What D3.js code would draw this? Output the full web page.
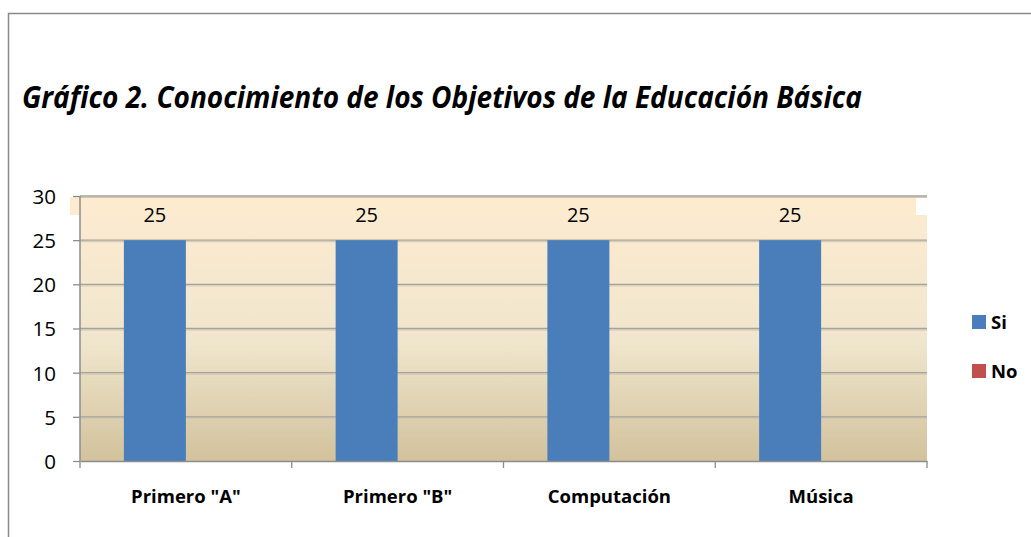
<!DOCTYPE html>
<html>
<head>
<meta charset="utf-8">
<script src="https://d3js.org/d3.v7.min.js"></script>
<style>
  body { margin: 0; background: #fff; }
  text { font-family: "Open Sans", "Noto Sans", sans-serif; }
</style>
</head>
<body>
<svg id="chart" width="1031" height="537"></svg>
<script>
// Data
var categories = ['Primero "A"', 'Primero "B"', 'Computación', 'Música'];
var series = ["Si", "No"];
var siValues = [25, 25, 25, 25];
var noValues = [0, 0, 0, 0];
var yTicks = [0, 5, 10, 15, 20, 25, 30];
var colors = ["#4a7ebb", "#c0504d"];

var svg = d3.select("#chart");
var margin = {top: 196, left: 80, right: 104, bottom: 76};
var plotW = 1031 - margin.left - margin.right,
    plotH = 537 - margin.top - margin.bottom;

// outer frame
svg.append("path")
  .attr("d", "M8.5,537 V13.5 H1031")
  .attr("fill", "none")
  .attr("stroke", "#8a8a8a")
  .attr("stroke-width", 1.5);

// title
svg.append("text")
  .attr("x", 22).attr("y", 108)
  .attr("font-size", 31).attr("font-weight", "bold").attr("font-style", "italic")
  .attr("textLength", 840).attr("lengthAdjust", "spacingAndGlyphs")
  .attr("fill", "#000")
  .text("Gráfico 2. Conocimiento de los Objetivos de la Educación Básica");

// scales
var x = d3.scaleBand().domain(categories).range([0, plotW]).padding(0);
var xs = d3.scaleBand().domain(series).range([0, x.bandwidth()]).paddingInner(0).paddingOuter(0.708);
var y = d3.scaleLinear().domain([0, 30]).range([plotH, 0]);

var defs = svg.append("defs");
var grad = defs.append("linearGradient").attr("id", "bg").attr("x1", 0).attr("y1", 0).attr("x2", 0).attr("y2", 1);
grad.append("stop").attr("offset", "0%").attr("stop-color", "#fdebd0");
grad.append("stop").attr("offset", "55%").attr("stop-color", "#f0e6cd");
grad.append("stop").attr("offset", "100%").attr("stop-color", "#d2c29c");

var g = svg.append("g").attr("transform", "translate(" + margin.left + "," + margin.top + ")");

// plot background
g.append("rect")
  .attr("width", plotW).attr("height", plotH)
  .attr("fill", "url(#bg)");
// label band strip at the top (as in the original)
g.append("rect")
  .attr("x", -10).attr("y", 1)
  .attr("width", plotW - 1).attr("height", 18)
  .attr("fill", "#fdebd0");
g.append("rect")
  .attr("x", plotW - 11).attr("y", 1)
  .attr("width", 11).attr("height", 18)
  .attr("fill", "#fff");

// gridlines
g.selectAll(".grid-shadow")
  .data(yTicks.filter(function(d) { return d > 0; }))
  .enter().append("line")
  .attr("x1", 0).attr("x2", plotW)
  .attr("y1", function(d) { return y(d) + 1.5; }).attr("y2", function(d) { return y(d) + 1.5; })
  .attr("stroke", "#cfc6b4").attr("stroke-width", 1);
g.selectAll(".grid")
  .data(yTicks.filter(function(d) { return d > 0; }))
  .enter().append("line")
  .attr("x1", 0).attr("x2", plotW)
  .attr("y1", function(d) { return y(d); }).attr("y2", function(d) { return y(d); })
  .attr("stroke", "#a5a29c").attr("stroke-width", 1.3);

// bars
var rows = categories.map(function(c, i) { return {cat: c, vals: [siValues[i], noValues[i]]}; });
var groups = g.selectAll(".grp").data(rows).enter().append("g")
  .attr("transform", function(d) { return "translate(" + x(d.cat) + ",0)"; });
groups.selectAll("rect")
  .data(function(d) { return d.vals.map(function(v, j) { return {s: series[j], v: v}; }); })
  .enter().append("rect")
  .attr("x", function(d) { return xs(d.s); })
  .attr("width", xs.bandwidth())
  .attr("y", function(d) { return y(d.v); })
  .attr("height", function(d) { return plotH - y(d.v); })
  .attr("fill", function(d, j) { return colors[j]; });

// data labels
groups.append("text")
  .attr("x", function(d) { return xs("Si") + xs.bandwidth() / 2; })
  .attr("y", function(d) { return y(d.vals[0]) - 18; })
  .attr("text-anchor", "middle")
  .attr("font-size", 20).attr("fill", "#000")
  .text(function(d) { return d.vals[0]; });

// y axis
var yAxis = g.append("g")
  .call(d3.axisLeft(y).tickValues(yTicks).tickSize(7).tickPadding(17));
yAxis.select(".domain").attr("stroke", "#8c8c8c").attr("stroke-width", 1.5).attr("d", "M0," + plotH + "V0");
yAxis.selectAll(".tick line").attr("stroke", "#8c8c8c").attr("stroke-width", 1.3);
yAxis.selectAll(".tick text").attr("font-size", 20.5).attr("fill", "#000")
  .attr("font-family", "'Open Sans', sans-serif").attr("dy", "0.36em");

// x axis
var xAxis = g.append("g").attr("transform", "translate(0," + plotH + ")")
  .call(d3.axisBottom(x).tickSize(0).tickPadding(29));
xAxis.select(".domain").attr("stroke", "#8c8c8c").attr("stroke-width", 1.5);
xAxis.selectAll(".tick text").attr("font-size", 18.5).attr("font-weight", "bold").attr("fill", "#000")
  .attr("font-family", "'Open Sans', sans-serif")
  .attr("transform", function() { return "translate(" + (-(x.bandwidth() / 2) + xs("Si") + xs.bandwidth()) + ",0)"; });
var bounds = categories.map(function(c) { return x(c); }).concat([plotW]);
xAxis.selectAll(".bound").data(bounds).enter().append("line")
  .attr("x1", function(d) { return d; }).attr("x2", function(d) { return d; })
  .attr("y1", 0).attr("y2", 7)
  .attr("stroke", "#8c8c8c").attr("stroke-width", 1.3);

// legend
var legend = svg.append("g").attr("transform", "translate(972,315)");
var li = legend.selectAll("g").data(series).enter().append("g")
  .attr("transform", function(d, i) { return "translate(0," + (i * 49) + ")"; });
li.append("rect").attr("width", 14).attr("height", 14)
  .attr("fill", function(d, i) { return colors[i]; });
li.append("text").attr("x", 19).attr("y", 14)
  .attr("font-size", 18.5).attr("font-weight", "bold").attr("fill", "#000")
  .text(function(d) { return d; });
</script>
</body>
</html>
